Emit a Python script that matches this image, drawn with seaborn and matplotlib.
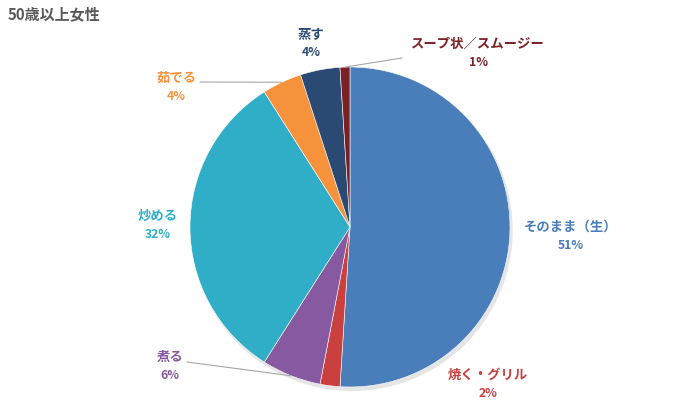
import matplotlib
matplotlib.use("Agg")
import matplotlib.pyplot as plt
import seaborn as sns
import numpy as np
from matplotlib.patches import Circle

# -----------------------------
# Datos
# -----------------------------
labels = ["そのまま（生）", "焼く・グリル", "煮る", "炒める", "茹でる", "蒸す", "スープ状／スムージー"]
values = [51, 2, 6, 32, 4, 4, 1]
colors = ["#4A7EBB", "#C9403F", "#8659A0", "#30AEC8", "#F7923C", "#2A4A73", "#7A2126"]

# -----------------------------
# Diseño (pixeles desde arriba-izquierda)
# -----------------------------
W, H = 700, 420
CX, CY, R = 350, 227, 160          # centro y radio del pastel
label_px = [(571, 236), (488, 384), (170, 366), (158, 225),
            (176, 87), (311, 43), (478, 53)]
leader_start = [None, None, (187, 362), None, (200, 82), None, (402, 58)]


def to_data(px, py):
    return (px - CX) / R, (CY - py) / R


sns.set_theme(style="white")
plt.rcParams['font.family'] = ['Noto Sans CJK JP', 'DejaVu Sans']

fig = plt.figure(figsize=(W / 100, H / 100), dpi=100)
ax = fig.add_axes([0, 0, 1, 1])

# sombra suave
ax.add_patch(Circle((0.012, -0.02), 1.005, color="#000000", alpha=0.10, zorder=0, lw=0))

wedges, _ = ax.pie(values, colors=colors, startangle=90, counterclock=False,
                   radius=1.0, wedgeprops=dict(edgecolor="white", linewidth=0.4))

ax.set_xlim(-CX / R, (W - CX) / R)
ax.set_ylim(-(H - CY) / R, CY / R)
ax.axis("off")

total = sum(values)
cum = 0
for i, (lab, v) in enumerate(zip(labels, values)):
    mid = (cum + v / 2) / total * 2 * np.pi
    cum += v
    lx, ly = to_data(*label_px[i])
    ax.text(lx, ly + 0.058, lab, ha="center", va="center", color=colors[i],
            fontsize=9.6, fontweight="bold")
    ax.text(lx, ly - 0.058, f"{v}%", ha="center", va="center", color=colors[i],
            fontsize=8.8, fontweight="bold")
    if leader_start[i] is not None:
        sx, sy = to_data(*leader_start[i])
        ax.plot([sx, np.sin(mid)], [sy, np.cos(mid)], color="#A6A6A6", lw=0.8, zorder=5)

fig.text(8 / W, 1 - 14 / H, "50歳以上女性", ha="left", va="center",
         fontsize=10.8, fontweight="bold", color="#595959")

fig.savefig("out.png", dpi=100)
